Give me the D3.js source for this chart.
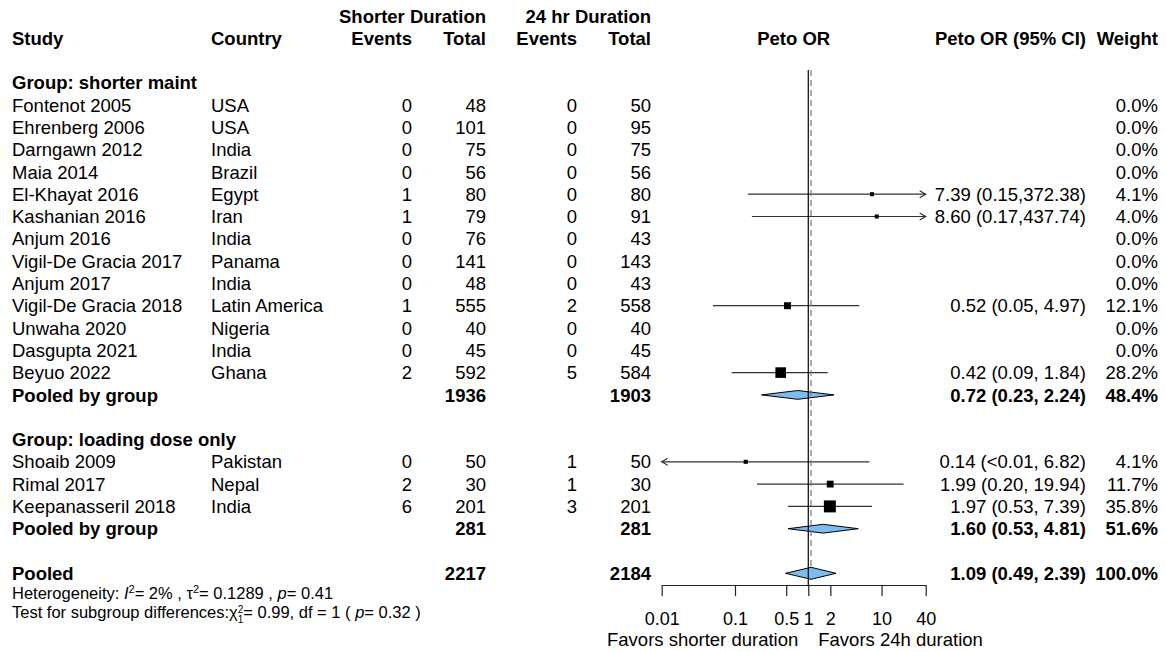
<!DOCTYPE html>
<html>
<head>
<meta charset="utf-8">
<script src="https://cdn.jsdelivr.net/npm/d3@7"></script>
<style>
  html, body { margin: 0; padding: 0; background: #fff; }
  svg text { font-family: "Liberation Sans", Arial, Helvetica, sans-serif; fill: #000; }
</style>
</head>
<body>
<svg id="chart" width="1166" height="652"></svg>
<script>
// ---- Data -------------------------------------------------------------
const group1Label = "Group: shorter maint";
const group1Studies = ["Fontenot 2005", "Ehrenberg 2006", "Darngawn 2012", "Maia 2014",
  "El-Khayat 2016", "Kashanian 2016", "Anjum 2016", "Vigil-De Gracia 2017", "Anjum 2017",
  "Vigil-De Gracia 2018", "Unwaha 2020", "Dasgupta 2021", "Beyuo 2022"];
const group1Countries = ["USA", "USA", "India", "Brazil", "Egypt", "Iran", "India", "Panama",
  "India", "Latin America", "Nigeria", "India", "Ghana"];
const group1EventsShort = [0, 0, 0, 0, 1, 1, 0, 0, 0, 1, 0, 0, 2];
const group1TotalShort  = [48, 101, 75, 56, 80, 79, 76, 141, 48, 555, 40, 45, 592];
const group1Events24    = [0, 0, 0, 0, 0, 0, 0, 0, 0, 2, 0, 0, 5];
const group1Total24     = [50, 95, 75, 56, 80, 91, 43, 143, 43, 558, 40, 45, 584];
const group1OR    = [null, null, null, null, 7.39, 8.60, null, null, null, 0.52, null, null, 0.42];
const group1Lower = [null, null, null, null, 0.15, 0.17, null, null, null, 0.05, null, null, 0.09];
const group1Upper = [null, null, null, null, 372.38, 437.74, null, null, null, 4.97, null, null, 1.84];
const group1Weight = [0.0, 0.0, 0.0, 0.0, 4.1, 4.0, 0.0, 0.0, 0.0, 12.1, 0.0, 0.0, 28.2];

const group2Label = "Group: loading dose only";
const group2Studies = ["Shoaib 2009", "Rimal 2017", "Keepanasseril 2018"];
const group2Countries = ["Pakistan", "Nepal", "India"];
const group2EventsShort = [0, 2, 6];
const group2TotalShort  = [50, 30, 201];
const group2Events24    = [1, 1, 3];
const group2Total24     = [50, 30, 201];
const group2OR    = [0.14, 1.99, 1.97];
const group2Lower = [0.003, 0.20, 0.53];
const group2Upper = [6.82, 19.94, 7.39];
const group2Weight = [4.1, 11.7, 35.8];

const subgroupTotalShort = [1936, 281];
const subgroupTotal24    = [1903, 281];
const subgroupOR     = [0.72, 1.60];
const subgroupLower  = [0.23, 0.53];
const subgroupUpper  = [2.24, 4.81];
const subgroupWeight = [48.4, 51.6];

const pooledTotalShort = 2217;
const pooledTotal24 = 2184;
const pooledOR = 1.09, pooledLower = 0.49, pooledUpper = 2.39, pooledWeight = 100.0;

const axisTicks = [0.01, 0.1, 0.5, 1, 2, 10, 40];
const axisDomain = [0.01, 40];

// ---- Layout ----------------------------------------------------------
const svg = d3.select("#chart");
const FS = 18.5;          // main text size
const FS_SMALL = 16.5;    // footnote size
const col = {
  study: 12, country: 211,
  evS: 412, totS: 486, ev24: 577, tot24: 651,
  est: 1086, weight: 1158
};

const x = d3.scaleLog().domain(axisDomain).range([661.7, 925.7]);
const y = d3.scaleLinear().domain([0, 1]).range([82.7, 105]); // row index -> centre

// assemble the rows of the table
const rows = [];
let r = 0;
function addGroup(label, studies, countries, evS, totS, ev24, tot24, or, lo, hi, w, gi) {
  rows.push({ type: "group", idx: r++, label });
  studies.forEach((s, i) => rows.push({
    type: "study", idx: r++, label: s, country: countries[i],
    evS: evS[i], totS: totS[i], ev24: ev24[i], tot24: tot24[i],
    or: or[i], lo: lo[i], hi: hi[i], w: w[i]
  }));
  rows.push({ type: "sub", idx: r++, label: "Pooled by group",
    totS: subgroupTotalShort[gi], tot24: subgroupTotal24[gi],
    or: subgroupOR[gi], lo: subgroupLower[gi], hi: subgroupUpper[gi], w: subgroupWeight[gi] });
  r++; // blank spacer row
}
addGroup(group1Label, group1Studies, group1Countries, group1EventsShort, group1TotalShort,
  group1Events24, group1Total24, group1OR, group1Lower, group1Upper, group1Weight, 0);
addGroup(group2Label, group2Studies, group2Countries, group2EventsShort, group2TotalShort,
  group2Events24, group2Total24, group2OR, group2Lower, group2Upper, group2Weight, 1);
rows.push({ type: "pooled", idx: r, label: "Pooled", totS: pooledTotalShort, tot24: pooledTotal24,
  or: pooledOR, lo: pooledLower, hi: pooledUpper, w: pooledWeight });
const pooledRow = rows[rows.length - 1];

const f2 = v => v < 0.01 ? "<0.01" : v.toFixed(2);
function ciText(d) {
  const up = f2(d.hi);
  return `${f2(d.or)} (${f2(d.lo)},${up.length >= 6 ? "" : " "}${up})`;
}

// ---- Header ------------------------------------------------------------
function txt(g, xp, yp, s, anchor, bold, size) {
  return g.append("text").attr("x", xp).attr("y", yp)
    .attr("text-anchor", anchor || "start")
    .attr("font-weight", bold ? "bold" : "normal")
    .attr("font-size", size || FS).text(s);
}
const head = svg.append("g");
txt(head, col.totS, 23, "Shorter Duration", "end", true);
txt(head, col.tot24, 23, "24 hr Duration", "end", true);
txt(head, col.study, 45, "Study", "start", true);
txt(head, col.country, 45, "Country", "start", true);
txt(head, col.evS, 45, "Events", "end", true);
txt(head, col.totS, 45, "Total", "end", true);
txt(head, col.ev24, 45, "Events", "end", true);
txt(head, col.tot24, 45, "Total", "end", true);
txt(head, (x.range()[0] + x.range()[1]) / 2, 45, "Peto OR", "middle", true);
txt(head, col.est, 45, "Peto OR (95% CI)", "end", true);
txt(head, col.weight, 45, "Weight", "end", true);

// ---- Table text --------------------------------------------------------
const tbl = svg.append("g");
const base = d => y(d.idx) + 6.6;
rows.forEach(d => {
  const b = d.type !== "study";
  txt(tbl, col.study, base(d), d.label, "start", b);
  if (d.type === "group") return;
  if (d.type === "study") {
    txt(tbl, col.country, base(d), d.country);
    txt(tbl, col.evS, base(d), d.evS, "end");
    txt(tbl, col.ev24, base(d), d.ev24, "end");
  }
  txt(tbl, col.totS, base(d), d.totS, "end", b);
  txt(tbl, col.tot24, base(d), d.tot24, "end", b);
  if (d.or != null) txt(tbl, col.est, base(d), ciText(d), "end", b);
  txt(tbl, col.weight, base(d), d.w.toFixed(1) + "%", "end", b);
});

// ---- Forest plot -------------------------------------------------------
const plot = svg.append("g");
const [xmin, xmax] = x.range();
const clampX = v => Math.max(xmin, Math.min(xmax, x(Math.max(v, 1e-6))));

// confidence intervals for individual studies
const studyRows = rows.filter(d => d.type === "study" && d.or != null);
plot.selectAll("line.ci").data(studyRows).join("line")
  .attr("class", "ci")
  .attr("x1", d => clampX(d.lo)).attr("x2", d => clampX(d.hi))
  .attr("y1", d => y(d.idx)).attr("y2", d => y(d.idx))
  .attr("stroke", "#333").attr("stroke-width", 1.2);

// open arrow heads where an interval runs past the axis
studyRows.forEach(d => {
  const cy = y(d.idx);
  if (d.hi > axisDomain[1]) {
    plot.append("path").attr("d", `M${xmax - 6},${cy - 3.5}L${xmax},${cy}L${xmax - 6},${cy + 3.5}`)
      .attr("fill", "none").attr("stroke", "#333").attr("stroke-width", 1.2);
  }
  if (d.lo < axisDomain[0]) {
    plot.append("path").attr("d", `M${xmin + 6},${cy - 3.5}L${xmin},${cy}L${xmin + 6},${cy + 3.5}`)
      .attr("fill", "none").attr("stroke", "#333").attr("stroke-width", 1.2);
  }
});

// weight-scaled squares
plot.selectAll("rect.pt").data(studyRows).join("rect")
  .attr("class", "pt")
  .attr("x", d => x(d.or) - Math.sqrt(d.w))
  .attr("y", d => y(d.idx) - Math.sqrt(d.w))
  .attr("width", d => 2 * Math.sqrt(d.w))
  .attr("height", d => 2 * Math.sqrt(d.w))
  .attr("fill", "#000");

// diamonds for pooled estimates
const diamRows = rows.filter(d => d.type === "sub" || d.type === "pooled");
plot.selectAll("path.dia").data(diamRows).join("path")
  .attr("class", "dia")
  .attr("d", d => {
    const cy = y(d.idx), h = d.type === "pooled" ? 6 : 4.4;
    return `M${x(d.lo)},${cy}L${x(d.or)},${cy - h}L${x(d.hi)},${cy}L${x(d.or)},${cy + h}Z`;
  })
  .attr("fill", "#7bbdee").attr("stroke", "#000").attr("stroke-width", 1);

// reference lines: no effect (solid) and pooled estimate (dashed)
const axisY = 585;
const topY = 70;
plot.append("line").attr("x1", x(1)).attr("x2", x(1)).attr("y1", topY).attr("y2", axisY)
  .attr("stroke", "#000").attr("stroke-width", 1.2);
plot.append("line").attr("x1", x(pooledOR)).attr("x2", x(pooledOR))
  .attr("y1", topY).attr("y2", y(pooledRow.idx) - 6)
  .attr("stroke", "#777").attr("stroke-width", 1.2).attr("stroke-dasharray", "6,4");

// axis
const axis = d3.axisBottom(x).tickValues(axisTicks).tickFormat(d => String(d))
  .tickSize(11).tickSizeOuter(0).tickPadding(16);
const ag = svg.append("g").attr("transform", `translate(0,${axisY})`).call(axis);
ag.select(".domain").attr("stroke", "#222").attr("stroke-width", 1.2);
ag.selectAll(".tick line").attr("stroke", "#222").attr("stroke-width", 1.2);
ag.selectAll(".tick text").attr("font-size", 18).attr("fill", "#000")
  .attr("font-family", "Liberation Sans, Arial, sans-serif");

txt(svg, x(1) - 10, 646, "Favors shorter duration", "end", false);
txt(svg, x(1) + 10, 646, "Favors 24h duration", "start", false);

// ---- Footnotes -------------------------------------------------------------
const h1 = svg.append("text").attr("x", col.study).attr("y", 599).attr("font-size", FS_SMALL);
h1.append("tspan").text("Heterogeneity:  ");
h1.append("tspan").attr("font-style", "italic").text("I");
h1.append("tspan").attr("font-size", 11).attr("dy", -6).text("2");
h1.append("tspan").attr("dy", 6).text("= 2% , \u03c4");
h1.append("tspan").attr("font-size", 11).attr("dy", -6).text("2");
h1.append("tspan").attr("dy", 6).text("= 0.1289 , ");
h1.append("tspan").attr("font-style", "italic").text("p");
h1.append("tspan").text("= 0.41");

const h2 = svg.append("text").attr("x", col.study).attr("y", 617.5).attr("font-size", FS_SMALL);
h2.append("tspan").text("Test for subgroup differences:\u03c7");
h2.append("tspan").attr("font-size", 10).attr("dy", -4.5).text("2");
h2.append("tspan").attr("font-size", 10).attr("dx", -5.6).attr("dy", 10).text("1");
h2.append("tspan").attr("dy", -5.5).text("= 0.99, df = 1  ( ");
h2.append("tspan").attr("font-style", "italic").text("p");
h2.append("tspan").text("= 0.32 )");
</script>
</body>
</html>
